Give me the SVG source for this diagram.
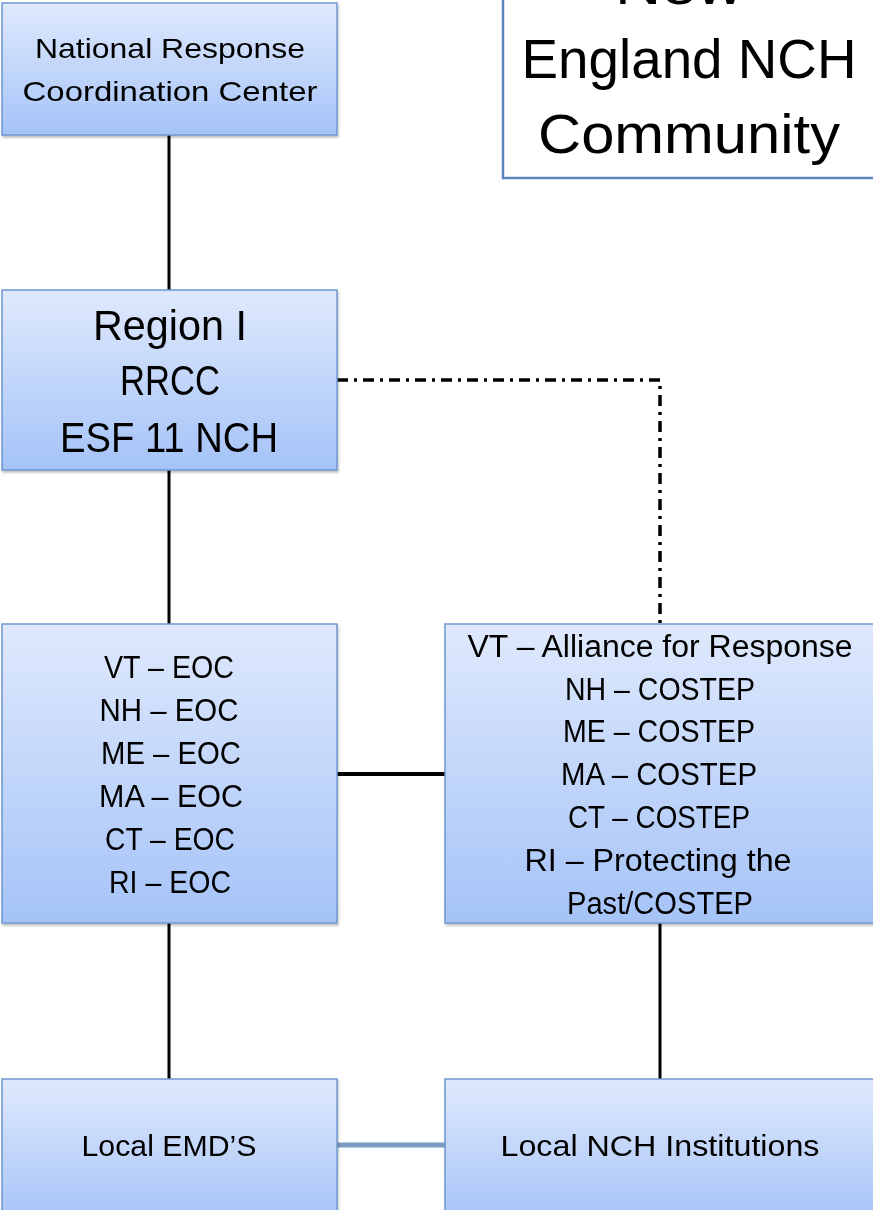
<svg xmlns="http://www.w3.org/2000/svg" width="873" height="1210" viewBox="0 0 873 1210">
<style>
.box{fill:url(#g);stroke:#6f97cf;stroke-width:1.5}
.t{font-family:"Liberation Sans",Arial,sans-serif;fill:#000;text-anchor:middle}
.s26{font-size:28px}
.s29{font-size:31px}
.s30{font-size:30px}
.s38{font-size:42px}
.s50{font-size:55px}
.c{stroke:#000;fill:none}
</style>
<defs>
<linearGradient id="g" x1="0" y1="0" x2="0" y2="1">
<stop offset="0" stop-color="#dfe9fc"/>
<stop offset="1" stop-color="#a5c3f8"/>
</linearGradient>
<filter id="sh" x="-5%" y="-5%" width="110%" height="110%">
<feDropShadow dx="1" dy="2" stdDeviation="1" flood-color="#000" flood-opacity="0.25"/>
</filter>
</defs>
<rect width="873" height="1210" fill="#fff"/>
<g id="connectors">
<line class="c" x1="169" y1="135" x2="169" y2="290" stroke-width="3"/>
<line class="c" x1="169" y1="470" x2="169" y2="624" stroke-width="3"/>
<line class="c" x1="169" y1="923" x2="169" y2="1079" stroke-width="3"/>
<line class="c" x1="660" y1="923" x2="660" y2="1079" stroke-width="3"/>
<line class="c" x1="337" y1="774" x2="445" y2="774" stroke-width="4"/>
<line x1="337" y1="1145" x2="445" y2="1145" stroke="#7b9cc4" stroke-width="5"/>
<path class="c" d="M337 380 H660 V624" stroke-width="3.5" stroke-dasharray="11,6,3,6"/>
</g>
<g id="title">
<rect x="503" y="-20" width="380" height="198" fill="#fff" stroke="#5b85bd" stroke-width="2.5"/>
<text class="t s50" x="679" y="4" textLength="128" lengthAdjust="spacingAndGlyphs">New</text>
<text class="t s50" x="689" y="78" textLength="335" lengthAdjust="spacingAndGlyphs">England NCH</text>
<text class="t s50" x="689" y="153" textLength="302" lengthAdjust="spacingAndGlyphs">Community</text>
</g>
<g id="nrcc" filter="url(#sh)">
<rect class="box" x="2" y="3" width="335" height="132"/>
<text class="t s26" x="170" y="58" textLength="270" lengthAdjust="spacingAndGlyphs">National Response</text>
<text class="t s26" x="170" y="101" textLength="295" lengthAdjust="spacingAndGlyphs">Coordination Center</text>
</g>
<g id="region" filter="url(#sh)">
<rect class="box" x="2" y="290" width="335" height="180"/>
<text class="t s38" x="170" y="340" textLength="154" lengthAdjust="spacingAndGlyphs">Region I</text>
<text class="t s38" x="170" y="395" textLength="100" lengthAdjust="spacingAndGlyphs">RRCC</text>
<text class="t s38" x="169" y="452" textLength="218" lengthAdjust="spacingAndGlyphs">ESF 11 NCH</text>
</g>
<g id="eoc" filter="url(#sh)">
<rect class="box" x="2" y="624" width="335" height="299"/>
<text class="t s29" x="169" y="678" textLength="130" lengthAdjust="spacingAndGlyphs">VT – EOC</text>
<text class="t s29" x="169" y="721" textLength="139" lengthAdjust="spacingAndGlyphs">NH – EOC</text>
<text class="t s29" x="171" y="764" textLength="140" lengthAdjust="spacingAndGlyphs">ME – EOC</text>
<text class="t s29" x="171" y="807" textLength="144" lengthAdjust="spacingAndGlyphs">MA – EOC</text>
<text class="t s29" x="170" y="850" textLength="130" lengthAdjust="spacingAndGlyphs">CT – EOC</text>
<text class="t s29" x="170" y="893" textLength="122" lengthAdjust="spacingAndGlyphs">RI – EOC</text>
</g>
<g id="costep" filter="url(#sh)">
<rect class="box" x="445" y="624" width="440" height="299"/>
<text class="t s29" x="660" y="657" textLength="385" lengthAdjust="spacingAndGlyphs">VT – Alliance for Response</text>
<text class="t s29" x="660" y="700" textLength="190" lengthAdjust="spacingAndGlyphs">NH – COSTEP</text>
<text class="t s29" x="659" y="742" textLength="192" lengthAdjust="spacingAndGlyphs">ME – COSTEP</text>
<text class="t s29" x="659" y="785" textLength="196" lengthAdjust="spacingAndGlyphs">MA – COSTEP</text>
<text class="t s29" x="659" y="828" textLength="182" lengthAdjust="spacingAndGlyphs">CT – COSTEP</text>
<text class="t s29" x="658" y="871" textLength="267" lengthAdjust="spacingAndGlyphs">RI – Protecting the</text>
<text class="t s29" x="660" y="914" textLength="186" lengthAdjust="spacingAndGlyphs">Past/COSTEP</text>
</g>
<g id="emd" filter="url(#sh)">
<rect class="box" x="2" y="1079" width="335" height="145"/>
<text class="t s30" x="169" y="1156" textLength="175" lengthAdjust="spacingAndGlyphs">Local EMD’S</text>
</g>
<g id="nch" filter="url(#sh)">
<rect class="box" x="445" y="1079" width="440" height="145"/>
<text class="t s30" x="660" y="1156" textLength="319" lengthAdjust="spacingAndGlyphs">Local NCH Institutions</text>
</g>
</svg>
